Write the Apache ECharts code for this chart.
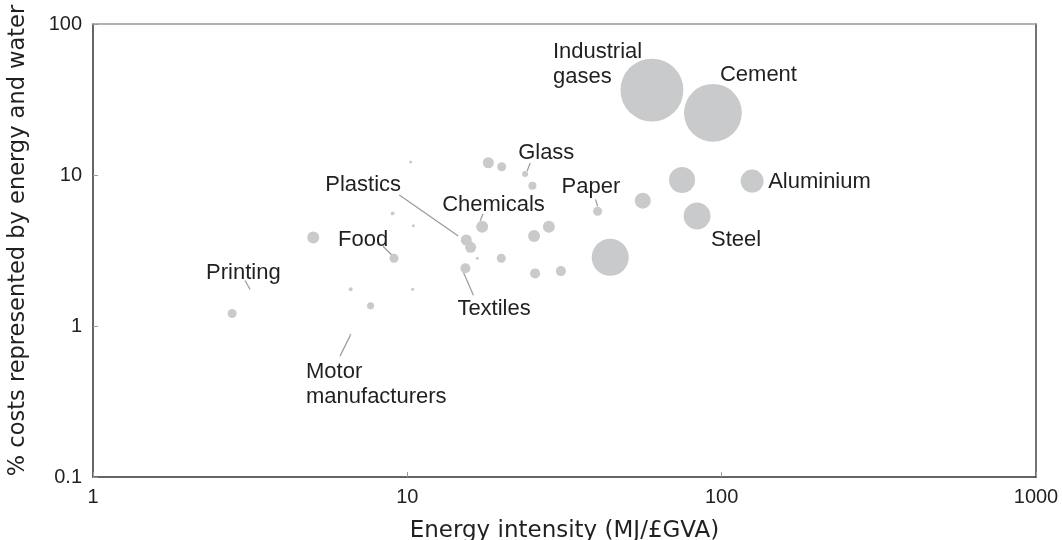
<!DOCTYPE html>
<html>
<head>
<meta charset="utf-8">
<script src="https://cdn.jsdelivr.net/npm/echarts@6/dist/echarts.min.js"></script>
<style>
  html, body { margin: 0; padding: 0; background: #fff; }
  #chart { width: 1062px; height: 540px; }
</style>
</head>
<body>
<div id="chart"></div>
<script>
// energy intensity (MJ/£GVA) of each sector
const intensity = [60.0, 93.8, 125, 83.5, 74.8, 56.1, 40.3, 44.2, 18.1, 19.96,
    23.7, 25.0, 17.3, 28.2, 25.3, 15.4, 15.9, 16.7, 19.9, 15.3,
    25.5, 30.8, 5.02, 9.07, 8.98, 10.45, 6.6, 10.4, 7.64, 2.77,
    10.25, 6.57];
// % costs represented by energy and water
const costShare = [36.5, 25.8, 9.12, 5.35, 9.27, 6.76, 5.75, 2.85, 12.06, 11.35,
    10.15, 8.49, 4.55, 4.55, 3.94, 3.71, 3.32, 2.81, 2.81, 2.41,
    2.23, 2.31, 3.85, 2.81, 5.57, 4.62, 1.75, 1.75, 1.36, 1.21,
    12.2, 0.87];
// relative bubble weight
const weight = [110, 93, 14.7, 20, 18.8, 7.1, 2.25, 38, 3.4, 2.25,
    1, 1.8, 4, 4, 4, 3.4, 3.4, 0.25, 2.25, 2.8,
    2.8, 2.8, 4, 2.25, 0.44, 0.25, 0.44, 0.25, 1.4, 2.25,
    0.25, 0.11];
const sectorNames = ['Industrial\ngases', 'Cement', 'Aluminium', 'Steel', '', '', 'Paper', '', '', '',
    'Glass', '', 'Chemicals', '', '', 'Plastics', '', '', '', 'Textiles',
    '', '', '', 'Food', '', '', '', '', '', 'Printing',
    '', 'Motor\nmanufacturers'];

// label offset from the bubble centre, in pixels
const labelPlace = {
    'Industrial\ngases': [-99, -26],
    'Cement': [7, -38],
    'Aluminium': [16, 1],
    'Steel': [14, 24],
    'Paper': [-36, -24],
    'Glass': [-7, -21],
    'Chemicals': [-40, -22],
    'Plastics': [-141, -55],
    'Food': [-56, -18],
    'Printing': [-26, -41],
    'Textiles': [-8, 41],
    'Motor\nmanufacturers': [-44, 49]
};
// leader segments relative to the bubble centre: [x1, y1, x2, y2]
const leaderPlace = {
    'Paper': [-2, -12, 0, -5],
    'Glass': [5, -11, 2, -3],
    'Chemicals': [1, -13, -2, -6],
    'Plastics': [-67, -45, -8, -4],
    'Food': [-11, -12, -2, -3],
    'Printing': [13, -33, 18, -24],
    'Textiles': [-2, 4, 8, 27],
    'Motor\nmanufacturers': [1, -1, -10, 21]
};

const textColor = '#231f20';

let points = intensity.map(function (x, i) {
    let name = sectorNames[i];
    let item = { name: name, value: [x, costShare[i], weight[i]] };
    if (name) {
        item.label = { show: true, offset: labelPlace[name] };
    }
    return item;
});

let leaders = [];
sectorNames.forEach(function (name, i) {
    if (leaderPlace[name]) {
        leaders.push({ name: name, value: [intensity[i], costShare[i]] });
    }
});

function logFormat(v) {
    return String(parseFloat(Number(v).toPrecision(2)));
}

let chart = echarts.init(document.getElementById('chart'));
chart.setOption({
    animation: false,
    textStyle: {
        fontFamily: 'Liberation Sans'
    },
    grid: {
        left: 93,
        right: 26,
        top: 24,
        bottom: 63,
        outerBoundsMode: 'none'
    },
    xAxis: [
        {
            type: 'log',
            logBase: 10,
            min: 1,
            max: 1000,
            name: 'Energy intensity (MJ/£GVA)',
            nameLocation: 'middle',
            nameGap: 43,
            nameTextStyle: {
                fontFamily: 'DejaVu Sans',
                fontSize: 23,
                color: textColor
            },
            axisLine: { lineStyle: { color: '#333', width: 1.5 } },
            axisTick: { inside: true, length: 5, lineStyle: { color: '#999' } },
            axisLabel: {
                fontFamily: 'Liberation Sans',
                fontSize: 20,
                color: textColor,
                margin: 10,
                formatter: logFormat
            },
            splitLine: { show: false }
        },
        {
            type: 'value',
            position: 'top',
            min: 0,
            max: 1,
            axisLine: { show: true, lineStyle: { color: '#999', width: 1.5 } },
            axisTick: { show: false },
            axisLabel: { show: false },
            splitLine: { show: false }
        }
    ],
    yAxis: [
        {
            type: 'log',
            logBase: 10,
            min: 0.1,
            max: 100,
            name: '% costs represented by energy and water',
            nameLocation: 'middle',
            nameRotate: 90,
            nameGap: 63,
            nameTextStyle: {
                fontFamily: 'DejaVu Sans',
                fontSize: 22.5,
                color: textColor,
                padding: [0, 0, 0, 20]
            },
            axisLine: { lineStyle: { color: '#333', width: 1.5 } },
            axisTick: { inside: true, length: 5, lineStyle: { color: '#999' } },
            axisLabel: {
                fontFamily: 'Liberation Sans',
                fontSize: 20,
                color: textColor,
                margin: 11,
                formatter: logFormat
            },
            splitLine: { show: false }
        },
        {
            type: 'value',
            position: 'right',
            min: 0,
            max: 1,
            axisLine: { show: true, lineStyle: { color: '#444', width: 1.5 } },
            axisTick: { show: false },
            axisLabel: { show: false },
            splitLine: { show: false }
        }
    ],
    series: [
        {
            type: 'custom',
            data: leaders,
            silent: true,
            renderItem: function (params, api) {
                let c = api.coord([api.value(0), api.value(1)]);
                let o = leaderPlace[leaders[params.dataIndex].name];
                return {
                    type: 'line',
                    shape: { x1: c[0] + o[0], y1: c[1] + o[1], x2: c[0] + o[2], y2: c[1] + o[3] },
                    style: { stroke: '#9a9a9a', lineWidth: 1.2 }
                };
            }
        },
        {
            type: 'scatter',
            data: points,
            symbolSize: function (v) {
                return Math.sqrt(v[2]) * 6;
            },
            itemStyle: {
                color: '#c9cacc',
                opacity: 1
            },
            label: {
                show: false,
                position: 'inside',
                align: 'left',
                verticalAlign: 'middle',
                formatter: '{b}',
                fontFamily: 'Liberation Sans',
                fontSize: 22,
                lineHeight: 25,
                color: textColor
            },
            emphasis: { disabled: true }
        }
    ]
});
</script>
</body>
</html>
